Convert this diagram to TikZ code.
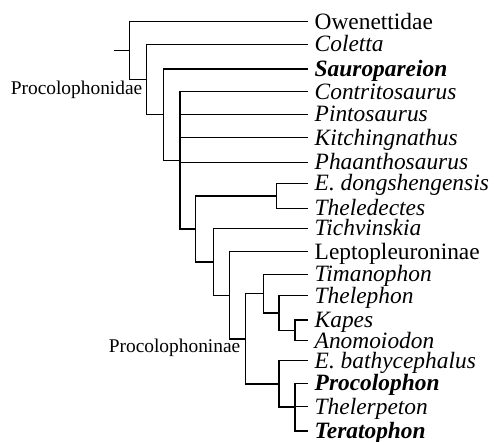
\documentclass[tikz,border=0pt]{standalone}
\usepackage{fontspec}
\setmainfont{Liberation Serif}
\begin{document}
\begin{tikzpicture}[x=1pt,y=-1pt,line width=1.4pt,line join=miter,
    taxon/.style={anchor=base west,inner sep=0pt,font=\fontsize{23.4}{24}\selectfont},
    clade/.style={anchor=base east,inner sep=0pt,font=\fontsize{19.4}{20}\selectfont}]
        \useasboundingbox (0,0) rectangle (494,441);
        % tips and names
        \foreach \n/\y/\name in {0/21.7/Owenettidae, 1/44.3/\textit{Coletta},
            2/69/\textbf{\textit{Sauropareion}}, 3/91.7/\textit{Contritosaurus},
            4/114.3/\textit{Pintosaurus}, 5/137.7/\textit{Kitchingnathus},
            6/162.3/\textit{Phaanthosaurus}, 7/183.3/\textit{E. dongshengensis},
            8/208.3/\textit{Theledectes}, 9/228.3/\textit{Tichvinskia},
            10/251.7/Leptopleuroninae, 11/274.3/\textit{Timanophon},
            12/295.7/\textit{Thelephon}, 13/320/\textit{Kapes},
            14/340.7/\textit{Anomoiodon}, 15/360.7/\textit{E. bathycephalus},
            16/383.3/\textbf{\textit{Procolophon}}, 17/406.7/\textit{Thelerpeton},
            18/431/\textbf{\textit{Teratophon}}}{
            \coordinate (t\n) at (308,\y);
            \node[taxon] (l\n) at (314,\y+7.5) {\name};
        }
        % inner nodes
        \coordinate (root) at (114,50.6);
        \coordinate (A) at (129.3,50.6);
        \coordinate (B) at (146.7,79.45);
        \coordinate (C) at (163.3,114.6);
        \coordinate (D) at (180,160.25);
        \coordinate (E) at (195.7,228.8);
        \coordinate (F) at (276.7,195.8);
        \coordinate (G) at (213.3,261.8);
        \coordinate (H) at (229.3,295.2);
        \coordinate (I) at (245.7,338.8);
        \coordinate (J) at (263.3,293.65);
        \coordinate (K) at (279,313);
        \coordinate (L) at (295,330.35);
        \coordinate (M) at (279,383.9);
        \coordinate (N) at (295,407);
        % branches
        \draw (root) -- (A);
        \draw (A) |- (t0); \draw (A) |- (B);
        \draw (B) |- (t1); \draw (B) |- (C);
        \draw (C) |- (t2); \draw (C) |- (D);
        \foreach \n in {3,...,6} \draw (D) |- (t\n);
        \draw (D) |- (E);
        \draw (E) |- (F); \draw (E) |- (G);
        \draw (F) |- (t7); \draw (F) |- (t8);
        \draw (G) |- (t9); \draw (G) |- (H);
        \draw (H) |- (t10); \draw (H) |- (I);
        \draw (I) |- (J); \draw (I) |- (M);
        \draw (J) |- (t11); \draw (J) |- (K);
        \draw (K) |- (t12); \draw (K) |- (L);
        \draw (L) |- (t13); \draw (L) |- (t14);
        \draw (M) |- (t15); \draw (M) |- (N);
        \foreach \n in {16,17,18} \draw (N) |- (t\n);
        % clade names
        \node[clade] (procolophonidae) at (143,94) {Procolophonidae};
        \node[clade] (procolophoninae) at (241,352.5) {Procolophoninae};
    \end{tikzpicture}
\end{document}
